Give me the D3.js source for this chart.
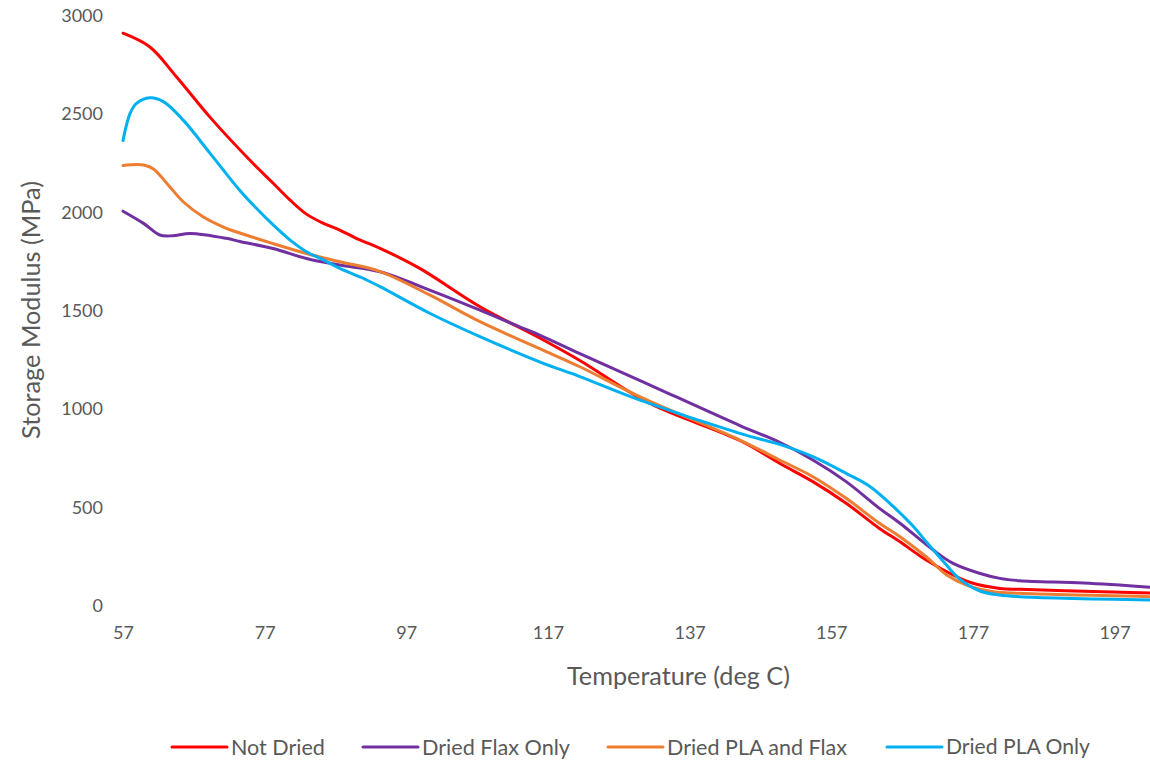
<!DOCTYPE html>
<html>
<head>
<meta charset="utf-8">
<script src="https://cdn.jsdelivr.net/npm/d3@7/dist/d3.min.js"></script>
<style>
  html, body { margin: 0; padding: 0; background: #fff; }
  svg { display: block; }
  text { font-family: Lato, "Open Sans", sans-serif; fill: #595959; }
</style>
</head>
<body>
<svg id="chart" width="1150" height="765"></svg>
<script>
// ---- Data ----
const xTicks = [57, 77, 97, 117, 137, 157, 177, 197];
const yTicks = [0, 500, 1000, 1500, 2000, 2500, 3000];
const seriesNames = ["Not Dried", "Dried Flax Only", "Dried PLA and Flax", "Dried PLA Only"];
const seriesColors = ["#FF0000", "#7030A0", "#ED7D31", "#00B0F0"];

const notDriedT = [57, 60.8, 64.6, 69.3, 75.3, 78.2, 80.6, 82.9, 85.3, 87.6, 90, 93.3, 98.9, 107.4, 115.9, 121.5, 131.4, 144.1, 149.7, 154.4, 159.1, 163.8, 166.7, 170.4, 174.2, 177, 180.8, 183.6, 190, 202];
const notDriedV = [2910, 2840, 2686, 2482, 2250, 2147, 2061, 1990, 1943, 1909, 1866, 1816, 1714, 1519, 1359, 1246, 1027, 839, 723, 630, 520, 392, 324, 231, 155, 113, 87, 82, 75, 64];

const flaxT = [57, 59.9, 62.2, 64, 66.5, 71.6, 73.5, 78.2, 82.9, 87.6, 93.3, 100.3, 107.4, 113, 115.9, 121.5, 130, 144.1, 149.7, 154.4, 159.1, 163.8, 166.7, 171.4, 174.2, 177.9, 180.8, 183.6, 192.6, 202];
const flaxV = [2005, 1943, 1884, 1880, 1892, 1867, 1851, 1815, 1764, 1731, 1697, 1604, 1502, 1417, 1374, 1281, 1144, 915, 830, 740, 630, 494, 418, 282, 214, 164, 138, 126, 114, 93];

const plaFlaxT = [57, 59.9, 61.3, 63.6, 65.5, 68.3, 71.6, 73.5, 78.2, 82.9, 87.6, 93.3, 100.3, 107.4, 115.9, 121.5, 130, 144.1, 149.7, 154.4, 159.1, 163.8, 166.7, 170.4, 173.3, 176.1, 179.9, 183.6, 202];
const plaFlaxV = [2237, 2240, 2220, 2129, 2053, 1977, 1918, 1894, 1840, 1790, 1748, 1698, 1579, 1443, 1305, 1214, 1061, 841, 740, 655, 545, 418, 350, 248, 155, 104, 70, 62, 45];

const plaT = [57, 58, 58.9, 60.8, 62.7, 65.5, 69.3, 73.5, 75.9, 78.2, 80.6, 82.9, 85.3, 87.6, 90.9, 93.3, 100.3, 107.4, 115.9, 121.5, 130, 144.1, 149.7, 154.4, 159.1, 162.5, 165.7, 168.5, 170.5, 172.8, 175.1, 177.9, 180.8, 183.6, 202];
const plaV = [2364, 2502, 2553, 2582, 2562, 2468, 2299, 2110, 2017, 1935, 1858, 1799, 1757, 1714, 1664, 1621, 1486, 1367, 1238, 1164, 1044, 875, 819, 757, 672, 604, 505, 405, 320, 225, 135, 75, 53, 45, 28];

const seriesT = [notDriedT, flaxT, plaFlaxT, plaT];
const seriesV = [notDriedV, flaxV, plaFlaxV, plaV];

// ---- Layout ----
const svg = d3.select("#chart");
const x = d3.scaleLinear().domain([57, 202]).range([123, 1150]);
const y = d3.scaleLinear().domain([0, 3000]).range([605.5, 15.5]);

// fit a text element's font size to a target width
function fitWidth(sel, target) {
  sel.each(function () {
    const w = this.getComputedTextLength();
    const fs = parseFloat(getComputedStyle(this).fontSize);
    if (w > 0) d3.select(this).style("font-size", (fs * target / w) + "px");
  });
}

// Y axis (labels only)
const yAxis = d3.axisLeft(y).tickValues(yTicks).tickSize(0).tickPadding(0).tickFormat(d3.format("d"));
const gy = svg.append("g").attr("transform", "translate(103,0)").call(yAxis);
gy.select(".domain").remove();
gy.selectAll("text").style("font-size", "18px").attr("fill", "#595959")
  .style("font-family", 'Lato, sans-serif').attr("dy", "0.34em");

// X axis (labels only)
const xAxis = d3.axisBottom(x).tickValues(xTicks).tickSize(0).tickPadding(0).tickFormat(d3.format("d"));
const gx = svg.append("g").attr("transform", "translate(0,626)").call(xAxis);
gx.select(".domain").remove();
gx.selectAll("text").style("font-size", "18px").attr("fill", "#595959")
  .style("font-family", 'Lato, sans-serif');

// Axis titles
const xt = svg.append("text").attr("x", 678.5).attr("y", 685).attr("text-anchor", "middle")
  .style("font-size", "20px").text("Temperature (deg C)");
fitWidth(xt, 223);
const yt = svg.append("text").attr("transform", "translate(40,310) rotate(-90)").attr("text-anchor", "middle")
  .style("font-size", "20px").text("Storage Modulus (MPa)");
fitWidth(yt, 258);

// Lines
const line = d3.line().x(d => x(d[0])).y(d => y(d[1])).curve(d3.curveCatmullRom.alpha(0.5));
seriesNames.forEach((name, i) => {
  const pts = seriesT[i].map((t, j) => [t, seriesV[i][j]]);
  svg.append("path").datum(pts).attr("d", line)
    .attr("fill", "none").attr("stroke", seriesColors[i]).attr("stroke-width", 3)
    .attr("stroke-linejoin", "round").attr("stroke-linecap", "round");
});

// Legend
const legendX = [172, 363, 608, 887];
const legendW = [94, 148, 180, 144];
seriesNames.forEach((name, i) => {
  const g = svg.append("g").attr("transform", `translate(${legendX[i]},747)`);
  g.append("line").attr("x1", 0).attr("x2", 55).attr("y1", 0).attr("y2", 0)
    .attr("stroke", seriesColors[i]).attr("stroke-width", 3).attr("stroke-linecap", "round");
  const t = g.append("text").attr("x", 59).attr("y", 0).attr("dy", "0.35em")
    .style("font-size", "18px").text(name);
  fitWidth(t, legendW[i]);
});
</script>
</body>
</html>
